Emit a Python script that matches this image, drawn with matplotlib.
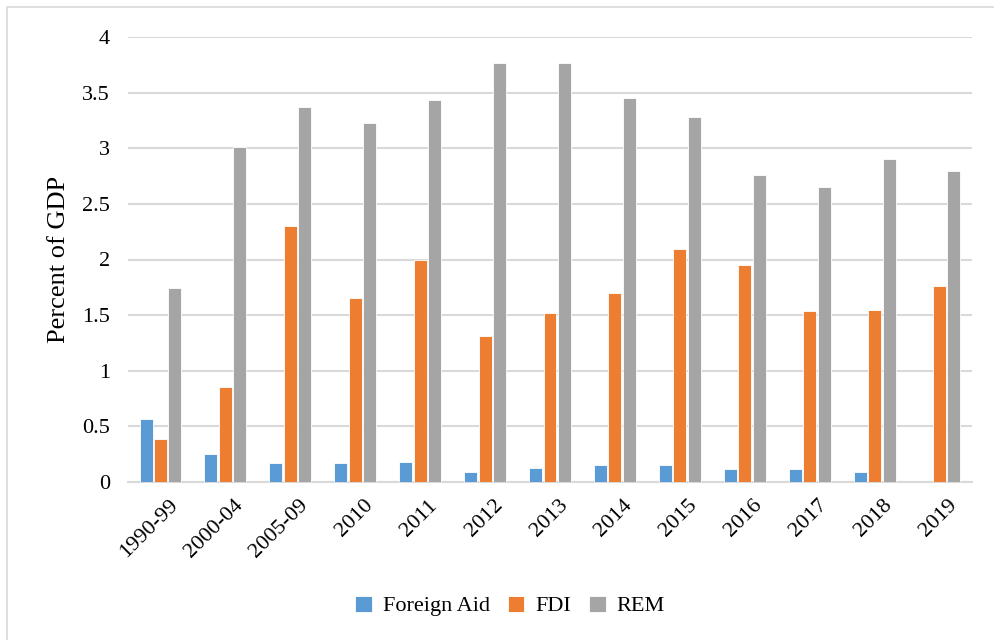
import matplotlib
matplotlib.use("Agg")
import matplotlib.pyplot as plt
import matplotlib.transforms as mtrans
import numpy as np
from matplotlib.patches import Rectangle

plt.rcParams['font.family'] = ['Liberation Serif', 'DejaVu Serif']

categories = ["1990-99", "2000-04", "2005-09", "2010", "2011", "2012", "2013",
              "2014", "2015", "2016", "2017", "2018", "2019"]
foreign_aid = [0.57, 0.25, 0.17, 0.17, 0.18, 0.09, 0.13, 0.15, 0.15, 0.12, 0.12, 0.09, 0.0]
fdi = [0.39, 0.85, 2.30, 1.65, 2.00, 1.31, 1.52, 1.70, 2.09, 1.95, 1.54, 1.55, 1.76]
rem = [1.74, 3.01, 3.37, 3.23, 3.43, 3.77, 3.77, 3.45, 3.28, 2.76, 2.65, 2.90, 2.80]
series_names = ["Foreign Aid", "FDI", "REM"]
colors = ["#5B9BD5", "#ED7D31", "#A5A5A5"]

fig = plt.figure(figsize=(9.95, 6.4), dpi=100)
ax = fig.add_axes([128 / 995, 1 - 482 / 640, (972 - 128) / 995, (482 - 37) / 640])

x = np.arange(len(categories))
step = 0.222
width = 0.20
for i, (vals, name, c) in enumerate(zip([foreign_aid, fdi, rem], series_names, colors)):
    ax.bar(x + (i - 1) * step, vals, width=width, color=c, label=name,
           edgecolor="white", linewidth=0.6, zorder=3)

ax.set_xlim(-0.5, len(categories) - 0.5)
ax.set_ylim(0, 4)
ax.set_yticks(np.arange(0, 4.01, 0.5))
ax.set_yticklabels(["0", "0.5", "1", "1.5", "2", "2.5", "3", "3.5", "4"])
ax.yaxis.grid(True, color="#D9D9D9", linewidth=1.5, zorder=0)
ax.set_axisbelow(True)
for s in ["top", "right", "left"]:
    ax.spines[s].set_visible(False)
ax.spines["bottom"].set_color("#D9D9D9")
ax.spines["bottom"].set_linewidth(1.5)
ax.tick_params(axis="both", length=0, labelsize=16, colors="black")
ax.tick_params(axis="y", pad=13)
ax.set_xticks(x)
ax.set_xticklabels(categories, rotation=45, ha="right", rotation_mode="anchor")
ax.tick_params(axis="x", pad=10)
shift = mtrans.ScaledTranslation(8 / 100, 0, fig.dpi_scale_trans)
for lbl in ax.get_xticklabels():
    lbl.set_transform(lbl.get_transform() + shift)
ax.set_ylabel("Percent of GDP", fontsize=19, labelpad=9)

leg = fig.legend(loc="center", bbox_to_anchor=(510 / 995, 1 - 606 / 640), ncol=3,
                 frameon=False, fontsize=16, handlelength=0.75, handleheight=0.75,
                 handletextpad=0.5, columnspacing=0.8)

fig.patches.append(Rectangle((7 / 995, -0.05), 1.2, 1 - 7 / 640 + 0.05,
                             transform=fig.transFigure, fill=False,
                             edgecolor="#D9D9D9", linewidth=1.2))

fig.savefig("out.png", dpi=100)
